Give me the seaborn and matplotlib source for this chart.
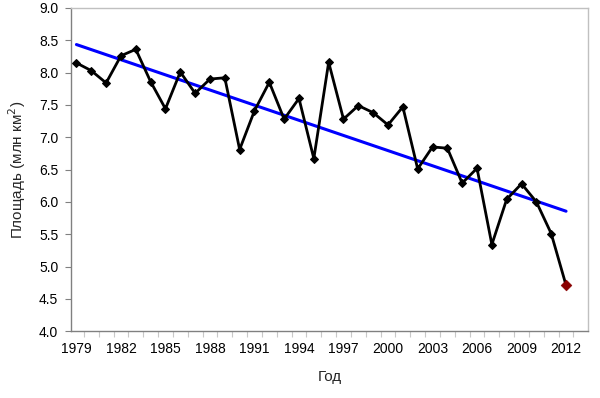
import numpy as np
import pandas as pd
import matplotlib
matplotlib.use("Agg")
import matplotlib.pyplot as plt
import seaborn as sns

# Площадь льда, млн км2
years = list(range(1979, 2013))
area = [8.15, 8.03, 7.84, 8.26, 8.36, 7.86, 7.44, 8.01, 7.68, 7.90,
        7.92, 6.81, 7.41, 7.85, 7.28, 7.60, 6.67, 8.16, 7.28, 7.49,
        7.38, 7.19, 7.47, 6.51, 6.85, 6.83, 6.29, 6.52, 5.34, 6.04,
        6.28, 6.00, 5.51, 4.71]
x_labels = list(range(1979, 2013, 3))
y_ticks = [4.0, 4.5, 5.0, 5.5, 6.0, 6.5, 7.0, 7.5, 8.0, 8.5, 9.0]

df = pd.DataFrame({"year": years, "area": area})

sns.set_style("white")
plt.rcParams["font.family"] = ["Liberation Sans", "DejaVu Sans"]

fig = plt.figure(figsize=(6.0, 3.98), dpi=100)
ax = fig.add_axes([0.118, 0.168, 0.862, 0.812])

# линейный тренд
sns.regplot(data=df, x="year", y="area", ax=ax, scatter=False, ci=None,
            color="#0000ff", line_kws={"linewidth": 2.2, "zorder": 2})

# основная кривая
sns.lineplot(data=df, x="year", y="area", ax=ax, color="black", linewidth=2.0,
             marker="D", markersize=4, markeredgecolor="black", zorder=3)

# последний год выделен
sns.scatterplot(data=df.tail(1), x="year", y="area", ax=ax, marker="D", s=30,
                color="#8b0000", edgecolor="#8b0000", zorder=4)

ax.set_xlim(1978.62, 2013.48)
ax.set_ylim(4.0, 9.0)
ax.set_xticks(x_labels)
ax.set_xticklabels([str(v) for v in x_labels], fontsize=10)
ax.set_xticks(np.arange(1979.5, 2013, 1), minor=True)
ax.set_yticks(y_ticks)
ax.set_yticklabels([f"{v:.1f}" for v in y_ticks], fontsize=10)

ax.tick_params(axis="x", which="major", length=0, pad=8, colors="black")
ax.tick_params(axis="x", which="minor", length=4, width=0.8, color="#c8c8c8",
               direction="out", bottom=True)
ax.tick_params(axis="y", which="major", length=4, width=0.8, color="#808080",
               direction="out", left=True, pad=5, labelcolor="black")

for side in ["left", "bottom"]:
    ax.spines[side].set_color("#808080")
    ax.spines[side].set_linewidth(1.0)
for side in ["top", "right"]:
    ax.spines[side].set_color("#c0c0c0")
    ax.spines[side].set_linewidth(1.0)

ax.set_xlabel("Год", fontsize=11, labelpad=10)
ax.set_ylabel("Площадь (млн км$^2$)", fontsize=11, labelpad=8)

fig.savefig("out.png", dpi=100)
